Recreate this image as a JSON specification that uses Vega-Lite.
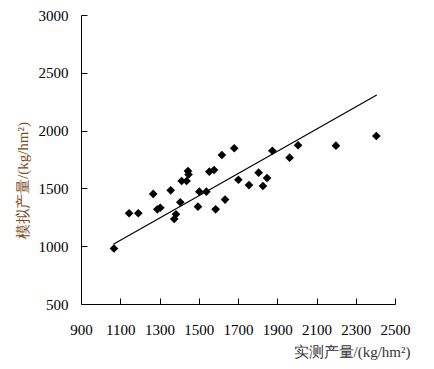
{
  "$schema": "https://vega.github.io/schema/vega-lite/v6.json",
  "width": 314,
  "height": 289,
  "autosize": {"type": "none"},
  "padding": {"left": 81, "top": 15, "right": 39, "bottom": 65},
  "background": "white",
  "config": {
    "view": {"stroke": null}
  },
  "datasets": {
    "pts": [
      {"obs": 1068, "sim": 980},
      {"obs": 1145, "sim": 1285},
      {"obs": 1192, "sim": 1285},
      {"obs": 1268, "sim": 1452},
      {"obs": 1289, "sim": 1319},
      {"obs": 1304, "sim": 1333},
      {"obs": 1357, "sim": 1483},
      {"obs": 1375, "sim": 1235},
      {"obs": 1384, "sim": 1276},
      {"obs": 1406, "sim": 1380},
      {"obs": 1413, "sim": 1564},
      {"obs": 1438, "sim": 1564},
      {"obs": 1445, "sim": 1650},
      {"obs": 1448, "sim": 1620},
      {"obs": 1496, "sim": 1342},
      {"obs": 1503, "sim": 1472},
      {"obs": 1539, "sim": 1472},
      {"obs": 1554, "sim": 1645},
      {"obs": 1578, "sim": 1659},
      {"obs": 1586, "sim": 1319},
      {"obs": 1618, "sim": 1789},
      {"obs": 1634, "sim": 1403},
      {"obs": 1681, "sim": 1847},
      {"obs": 1702, "sim": 1575},
      {"obs": 1756, "sim": 1529},
      {"obs": 1805, "sim": 1636},
      {"obs": 1827, "sim": 1521},
      {"obs": 1848, "sim": 1590},
      {"obs": 1875, "sim": 1826},
      {"obs": 1963, "sim": 1766},
      {"obs": 2006, "sim": 1873},
      {"obs": 2199, "sim": 1870},
      {"obs": 2405, "sim": 1953}
    ],
    "fit": [
      {"obs": 1065, "sim": 1016},
      {"obs": 2407, "sim": 2308}
    ]
  },
  "encoding": {
    "x": {"field": "obs", "type": "quantitative", "scale": {"domain": [900, 2500], "nice": false, "zero": false},
      "axis": {"values": [900, 1100, 1300, 1500, 1700, 1900, 2100, 2300, 2500], "format": "d", "labelOverlap": false, "labelFlush": false, "grid": false,
        "domainColor": "black", "tickColor": "black", "tickSize": -6, "labelColor": "black", "labelFont": "Liberation Serif", "labelFontSize": 15, "labelPadding": 24,
        "title": "实测产量/(kg/hm²)", "titleFont": "Liberation Serif", "titleFontSize": 15, "titleFontWeight": "normal", "titleAnchor": "end", "titleAlign": "right", "titleX": 329, "titleY": 52, "titleBaseline": "alphabetic", "titleColor": "#333333"}},
    "y": {"field": "sim", "type": "quantitative", "scale": {"domain": [500, 3000], "nice": false, "zero": false},
      "axis": {"values": [500, 1000, 1500, 2000, 2500, 3000], "format": "d", "labelOverlap": false, "labelFlush": false, "grid": false,
        "domainColor": "black", "tickColor": "black", "tickSize": -6, "labelColor": "black", "labelFont": "Liberation Serif", "labelFontSize": 15, "labelPadding": 19,
        "title": "模拟产量/(kg/hm²)", "titleFont": "Liberation Serif", "titleFontSize": 15, "titleFontWeight": "normal", "titleColor": "#7a4a22", "titlePadding": 8, "titleY": 165}}
  },
  "layer": [
    {
      "data": {"name": "fit"},
      "mark": {"type": "line", "color": "black", "strokeWidth": 1.2}
    },
    {
      "data": {"name": "pts"},
      "mark": {"type": "point", "shape": "diamond", "filled": true, "color": "black", "opacity": 1, "size": 75}
    }
  ]
}
